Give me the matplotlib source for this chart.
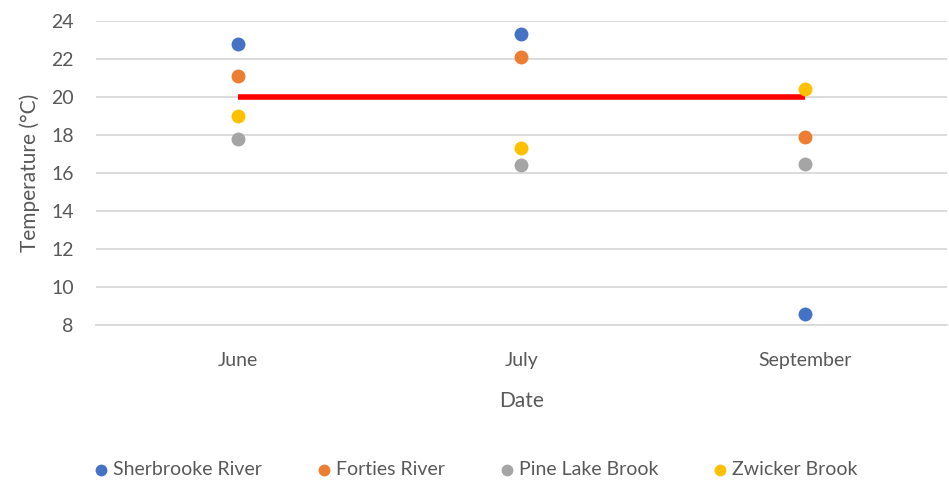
import matplotlib
matplotlib.use("Agg")
import matplotlib.pyplot as plt

plt.rcParams["font.family"] = ["Lato", "DejaVu Sans"]

dates = ["June", "July", "September"]
sherbrooke = [22.8, 23.3, 8.6]
forties = [21.1, 22.1, 17.9]
pine_lake = [17.8, 16.4, 16.5]
zwicker = [19.0, 17.3, 20.4]
threshold = [20, 20, 20]

series = [
    ("Sherbrooke River", sherbrooke, "#4472C4"),
    ("Forties River", forties, "#ED7D31"),
    ("Pine Lake Brook", pine_lake, "#A5A5A5"),
    ("Zwicker Brook", zwicker, "#FFC000"),
]

fig = plt.figure(figsize=(9.49, 4.84), dpi=100)
ax = fig.add_axes([0.101, 0.328, 0.897, 0.629])

x = list(range(len(dates)))
ax.plot(x, threshold, color="#FF0000", lw=4, solid_capstyle="butt", zorder=2)
for name, vals, col in series:
    ax.scatter(x, vals, s=100, color=col, label=name, zorder=3, linewidths=0)

ax.set_xlim(-0.5, 2.5)
ax.set_ylim(8, 24)
ax.set_yticks(range(8, 25, 2))
ax.set_xticks(x)
ax.set_xticklabels(dates)
ax.grid(axis="y", color="#D9D9D9", lw=1.3)
ax.set_axisbelow(True)
for s in ["top", "right", "left"]:
    ax.spines[s].set_visible(False)
ax.spines["bottom"].set_color("#D9D9D9")
ax.spines["bottom"].set_linewidth(1.3)
ax.tick_params(length=0, labelsize=14, colors="#595959")
ax.tick_params(axis="y", pad=16)
ax.tick_params(axis="x", pad=19)
ax.set_ylabel("Temperature (°C)", fontsize=15, color="#595959", labelpad=8)
ax.set_xlabel("Date", fontsize=15, color="#595959", labelpad=16)

fig.legend(loc="center", bbox_to_anchor=(0.5, 0.03), ncol=4, frameon=False,
           fontsize=14, labelcolor="#595959", handletextpad=0.1,
           handlelength=1.0, columnspacing=2.7, markerscale=0.85)

fig.savefig("out.png", dpi=100)
